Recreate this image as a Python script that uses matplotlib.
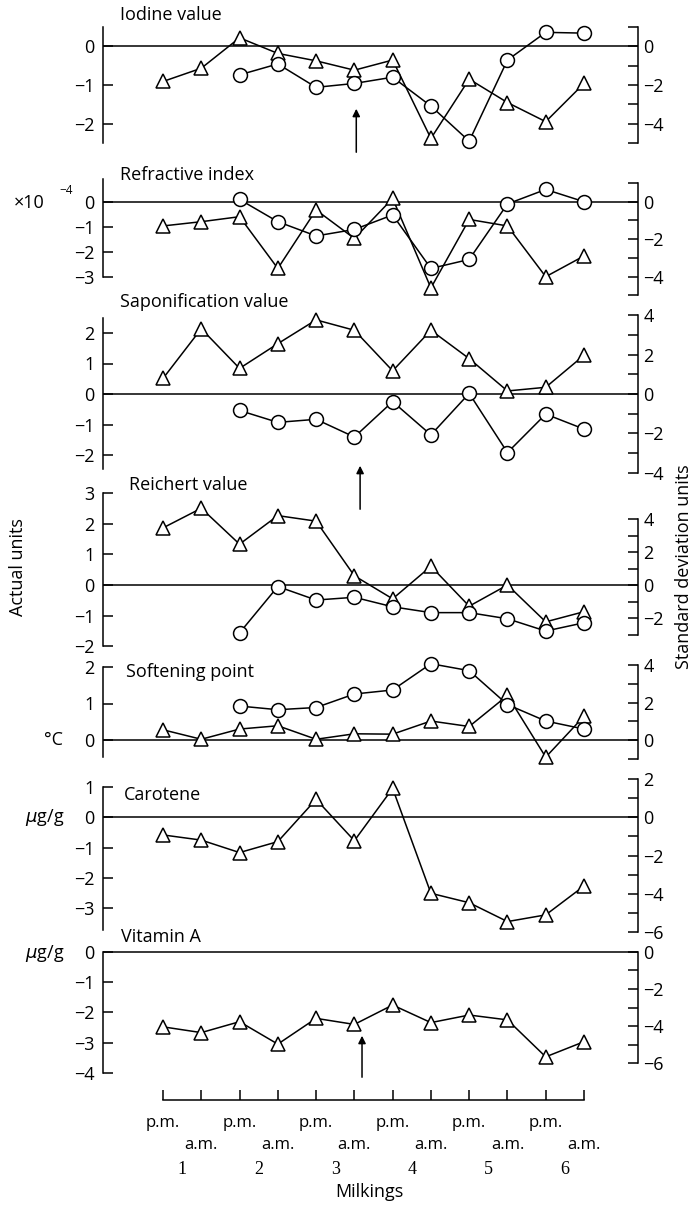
import numpy as np
import matplotlib
matplotlib.use("Agg")
import matplotlib.pyplot as plt
from matplotlib.transforms import blended_transform_factory

# deviations per milking (left-hand "actual units")
milking = np.arange(12)
milk_time = ["p.m.", "a.m."] * 6
milk_day = ["1", "2", "3", "4", "5", "6"]
nan = np.nan

iodine_tri = [-0.91, -0.57, 0.21, -0.19, -0.38, -0.62, -0.36, -2.37, -0.85, -1.45, -1.94, -0.96]
iodine_circ = [nan, nan, -0.74, -0.46, -1.06, -0.96, -0.80, -1.54, -2.44, -0.36, 0.35, 0.33]
refr_tri = [-0.97, -0.80, -0.60, -2.67, -0.33, -1.47, 0.13, -3.45, -0.71, -0.97, -3.00, -2.17]
refr_circ = [nan, nan, 0.09, -0.80, -1.37, -1.11, -0.53, -2.67, -2.31, -0.09, 0.49, 0.00]
sapon_tri = [0.51, 2.14, 0.84, 1.65, 2.43, 2.09, 0.76, 2.09, 1.16, 0.10, 0.22, 1.27]
sapon_circ = [nan, nan, -0.54, -0.93, -0.83, -1.41, -0.25, -1.34, 0.02, -1.92, -0.66, -1.15]
reich_tri = [1.86, 2.50, 1.33, 2.26, 2.08, 0.30, -0.45, 0.61, -0.69, 0.00, -1.20, -0.87]
reich_circ = [nan, nan, -1.56, -0.05, -0.49, -0.40, -0.71, -0.90, -0.90, -1.10, -1.50, -1.23]
soft_tri = [0.28, 0.02, 0.30, 0.39, 0.02, 0.17, 0.16, 0.52, 0.37, 1.22, -0.47, 0.65]
soft_circ = [nan, nan, 0.93, 0.83, 0.89, 1.26, 1.37, 2.09, 1.90, 0.97, 0.52, 0.30]
carotene = [-0.58, -0.75, -1.16, -0.80, 0.59, -0.77, 0.95, -2.50, -2.81, -3.43, -3.21, -2.26]
vitamin_a = [-2.48, -2.67, -2.31, -3.05, -2.20, -2.40, -1.76, -2.34, -2.09, -2.25, -3.47, -2.97]

W, H = 695, 1206
plt.rcParams["font.family"] = ["Open Sans", "DejaVu Sans"]
plt.rcParams["mathtext.fontset"] = "dejavusans"
LW = 1.1
FS = 13

fig = plt.figure(figsize=(W / 100, H / 100), dpi=100)

LEFT_PX, RIGHT_PX = 103, 638
X0_PX, X11_PX = 163, 584
step = (X11_PX - X0_PX) / 11
XLIM = (-(X0_PX - LEFT_PX) / step, 11 + (RIGHT_PX - X11_PX) / step)


def fx(px):
    return px / W


def fy(py):
    return 1 - py / H


def fmt(v):
    return str(v).replace("-", "\u2212")


def panel(zero, ppu, pps, lspan, lticks, rspan, rlabels):
    """One strip: left axis in actual units, right axis in s.d. units."""
    k = ppu / pps
    top = max(lspan[1], rspan[1] / k) + 0.02
    bot = min(lspan[0], rspan[0] / k) - 0.02
    top_px, bot_px = zero - top * ppu, zero - bot * ppu
    ax = fig.add_axes([fx(LEFT_PX), fy(bot_px), fx(RIGHT_PX - LEFT_PX), (bot_px - top_px) / H])
    ax.set_xlim(XLIM)
    ax.set_ylim(bot, top)
    ax.patch.set_visible(False)
    for s in ("top", "bottom", "right"):
        ax.spines[s].set_visible(False)
    ax.spines["left"].set_bounds(*lspan)
    ax.spines["left"].set_linewidth(LW)
    ax.set_xticks([])
    ax.set_yticks(lticks)
    ax.set_yticklabels([fmt(t) for t in lticks])
    ax.tick_params(axis="y", direction="in", length=7, width=LW, labelsize=FS, pad=6)
    ax.axhline(0, color="k", lw=LW, zorder=1)

    rax = ax.twinx()
    rax.set_ylim(bot * k, top * k)
    for s in ("top", "bottom", "left"):
        rax.spines[s].set_visible(False)
    rax.spines["right"].set_bounds(*rspan)
    rax.spines["right"].set_linewidth(LW)
    rt = list(range(rspan[0], rspan[1] + 1))
    rax.set_yticks(rt)
    rax.set_yticklabels([fmt(t) if t in rlabels else "" for t in rt])
    rax.tick_params(axis="y", direction="in", length=7, width=LW, labelsize=FS, pad=4)
    return ax


def series(ax, values, marker):
    ax.plot(milking, values, "-", marker=marker, color="k", lw=LW, ms=10,
            mfc="white", mec="k", mew=LW, clip_on=False, zorder=3)


def title(text, x, y):
    fig.text(fx(x), fy(y), text, fontsize=FS, ha="left", va="center")


def arrow(ax, x, y_tail, y_head):
    tr = blended_transform_factory(ax.transData, fig.transFigure)
    ax.annotate("", xy=(x, fy(y_head)), xytext=(x, fy(y_tail)), xycoords=tr,
                textcoords=tr, annotation_clip=False,
                arrowprops=dict(arrowstyle="-|>", color="k", lw=LW, mutation_scale=11))


# Iodine value
ax1 = panel(46, 39, 19.5, (-2.5, 0.5), [0, -1, -2], (-5, 1), [0, -2, -4])
series(ax1, iodine_tri, "^")
series(ax1, iodine_circ, "o")
title("Iodine value", 120, 15)
arrow(ax1, 5.05, 155, 106)

# Refractive index
ax2 = panel(201.7, 25, 18.7, (-3, 0.9), [0, -1, -2, -3], (-5, 1), [0, -2, -4])
series(ax2, refr_tri, "^")
series(ax2, refr_circ, "o")
title("Refractive index", 120, 175)
fig.text(fx(14), fy(203), "\u00d710", fontsize=FS, ha="left", va="center")
fig.text(fx(73), fy(190), "\u22124", fontsize=8.5, ha="right", va="center")

# Saponification value
ax3 = panel(394, 30.5, 19.7, (-2.45, 2.5), [2, 1, 0, -1, -2], (-4, 4), [4, 2, 0, -2, -4])
series(ax3, sapon_tri, "^")
series(ax3, sapon_circ, "o")
title("Saponification value", 120, 302)
arrow(ax3, 5.15, 512, 463)

# Reichert value
ax4 = panel(585, 30.7, 16.5, (-2, 3), [3, 2, 1, 0, -1, -2], (-3, 4), [4, 2, 0, -2])
series(ax4, reich_tri, "^")
series(ax4, reich_circ, "o")
title("Reichert value", 129, 485)

# Softening point
ax5 = panel(740, 36.5, 18.7, (-0.47, 2), [2, 1, 0], (-1, 4), [4, 2, 0])
series(ax5, soft_tri, "^")
series(ax5, soft_circ, "o")
title("Softening point", 126, 672)
fig.text(fx(44), fy(740), "\u00b0C", fontsize=FS, ha="left", va="center")

# Carotene
ax6 = panel(817.3, 30.4, 19.2, (-3.7, 1), [1, 0, -1, -2, -3], (-6, 2), [2, 0, -2, -4, -6])
series(ax6, carotene, "^")
title("Carotene", 124, 795)
fig.text(fx(25), fy(817), r"$\mu$g/g", fontsize=FS, ha="left", va="center")

# Vitamin A
ax7 = panel(951.7, 30.3, 18.6, (-4, 0), [0, -1, -2, -3, -4], (-6, 0), [0, -2, -4, -6])
series(ax7, vitamin_a, "^")
title("Vitamin A", 121, 937)
fig.text(fx(25), fy(954), r"$\mu$g/g", fontsize=FS, ha="left", va="center")
arrow(ax7, 5.2, 1080, 1033)

# milkings axis
axb = fig.add_axes([fx(LEFT_PX), fy(1100), fx(RIGHT_PX - LEFT_PX), 12 / H])
axb.set_xlim(XLIM)
axb.patch.set_visible(False)
for s in ("top", "left", "right"):
    axb.spines[s].set_visible(False)
axb.spines["bottom"].set_bounds(0, 11)
axb.spines["bottom"].set_linewidth(LW)
axb.set_yticks([])
axb.set_xticks(milking)
axb.set_xticklabels([])
axb.tick_params(axis="x", direction="in", length=7, width=LW)

tr = blended_transform_factory(axb.transData, fig.transFigure)
for i, lab in zip(milking, milk_time):
    axb.text(i, fy(1123 if lab == "p.m." else 1145), lab, transform=tr,
             fontsize=12, ha="center", va="center")
for j, lab in enumerate(milk_day):
    axb.text(2 * j + 0.5, fy(1170), lab, transform=tr, fontsize=13,
             ha="center", va="center", family="Liberation Serif")
fig.text(fx(369), fy(1192), "Milkings", fontsize=FS, ha="center", va="center")

fig.text(fx(18), fy(567), "Actual units", fontsize=FS, rotation=90, ha="center", va="center")
fig.text(fx(684), fy(567), "Standard deviation units", fontsize=FS, rotation=90,
         ha="center", va="center")

fig.savefig("out.png", dpi=100)
